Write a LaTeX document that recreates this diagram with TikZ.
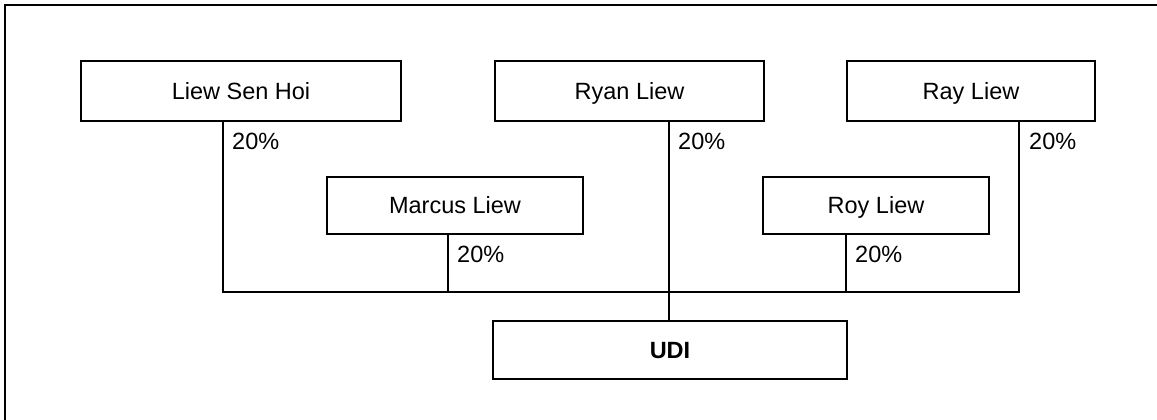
\documentclass[tikz,border=0pt]{standalone}
\usepackage{fontspec}
\setmainfont{Liberation Sans}
\begin{document}
\begin{tikzpicture}[x=1pt,y=-1pt,
  person/.style={draw, line width=2pt, rectangle, inner sep=0pt, text height=16.8pt, text depth=0pt, font=\fontsize{23.5}{28}\selectfont},
  pct/.style={anchor=north west, inner sep=0pt, font=\fontsize{23.5}{28}\selectfont},
  conn/.style={line width=2pt}]
\useasboundingbox (0,0) rectangle (1157,420);
\draw[line width=2pt] (5,421) -- (5,5) -- (1158,5);
% people
\node[person, minimum width=320pt, minimum height=59.5pt] (lsh) at (241,90.75) {Liew Sen Hoi};
\node[person, minimum width=269pt, minimum height=59.5pt] (ryan) at (629.5,90.75) {Ryan Liew};
\node[person, minimum width=248pt, minimum height=59.5pt] (ray) at (971,90.75) {Ray Liew};
\node[person, minimum width=256pt, minimum height=57pt] (marcus) at (455,205.5) {Marcus Liew};
\node[person, minimum width=226pt, minimum height=57pt] (roy) at (876,205.5) {Roy Liew};
\node[person, minimum width=354pt, minimum height=58pt, font=\fontsize{23.5}{28}\selectfont\bfseries] (udi) at (670,350) {UDI};
% junctions
\coordinate (j1) at (222.7,292);
\coordinate (j2) at (447.7,292);
\coordinate (j3) at (669,292);
\coordinate (j4) at (846,292);
\coordinate (j5) at (1019,292);
% connectors
\draw[conn] (lsh.south -| j1) -- (j1) -- (j5) -- (ray.south -| j5);
\draw[conn] (marcus.south -| j2) -- (j2);
\draw[conn] (roy.south -| j4) -- (j4);
\draw[conn] (ryan.south -| j3) -- (udi.north -| j3);
% labels
\node[pct] (p1) at (232,132.5) {20\%};
\node[pct] (p2) at (678,132.5) {20\%};
\node[pct] (p3) at (1029,132.5) {20\%};
\node[pct] (p4) at (457,246) {20\%};
\node[pct] (p5) at (855,246) {20\%};
\end{tikzpicture}
\end{document}
